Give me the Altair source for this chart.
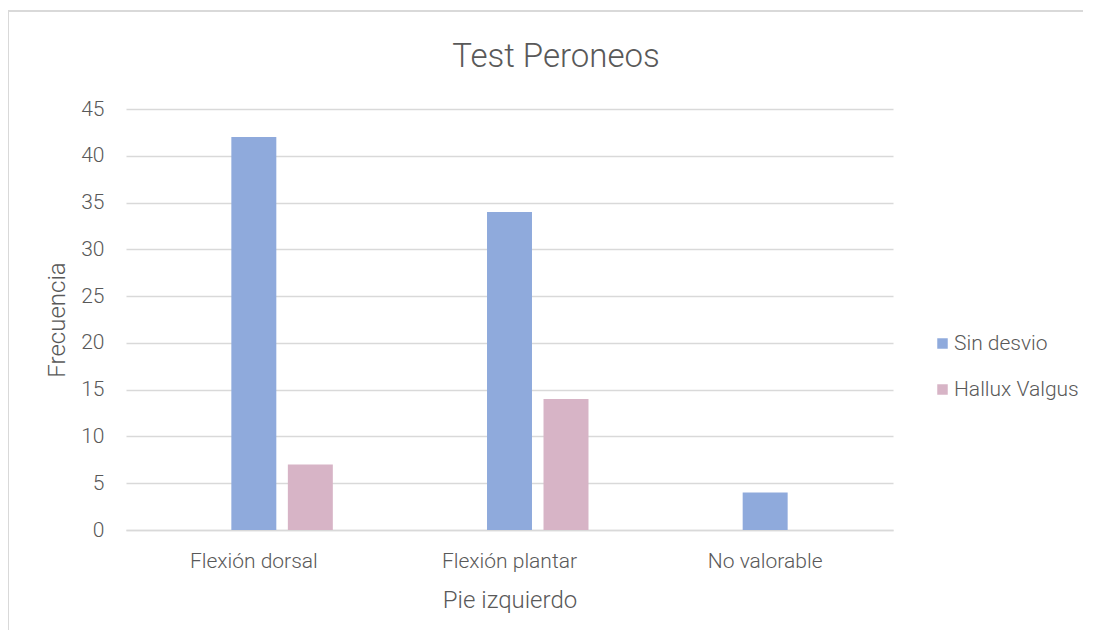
import altair as alt
import pandas as pd

chart_title = "Test Peroneos"
categories = ["Flexión dorsal", "Flexión plantar", "No valorable"]
series = ["Sin desvio", "Hallux Valgus"]
sin_desvio = [42, 34, 4]
hallux_valgus = [7, 14, 0]
y_ticks = [0, 5, 10, 15, 20, 25, 30, 35, 40, 45]
offset_slots = ["(vacío)", "Sin desvio", "Hallux Valgus"]
colors = ["#8FAADC", "#D7B4C6"]

rows = []
for i, c in enumerate(categories):
    rows.append({"Categoria": c, "Serie": series[0], "Frecuencia": sin_desvio[i]})
    rows.append({"Categoria": c, "Serie": series[1], "Frecuencia": hallux_valgus[i]})
df = pd.DataFrame(rows)

FONT = "Roboto"
TXT = "#595959"
GRID = "#D9D9D9"

bars = alt.Chart(df).mark_bar().encode(
    x=alt.X(
        "Categoria:N",
        sort=categories,
        scale=alt.Scale(paddingInner=0.337, paddingOuter=0.1685),
        axis=alt.Axis(
            title="Pie izquierdo",
            labelAngle=0,
            labelFont=FONT,
            labelFontSize=21,
            labelFontWeight=300,
            labelColor=TXT,
            labelPadding=20,
            ticks=False,
            domainColor=GRID,
            domainWidth=1.5,
            titleFont=FONT,
            titleFontSize=24,
            titleFontWeight=300,
            titleColor=TXT,
            titlePadding=17,
        ),
    ),
    xOffset=alt.XOffset(
        "Serie:N",
        scale=alt.Scale(domain=offset_slots, paddingInner=0.204, paddingOuter=0.102),
    ),
    y=alt.Y(
        "Frecuencia:Q",
        scale=alt.Scale(domain=[0, 45], nice=False),
        axis=alt.Axis(
            title="Frecuencia",
            values=y_ticks,
            labelFont=FONT,
            labelFontSize=21,
            labelFontWeight=300,
            labelColor=TXT,
            labelPadding=22,
            ticks=False,
            domain=False,
            gridColor=GRID,
            gridWidth=1.5,
            titleFont=FONT,
            titleFontSize=24,
            titleFontWeight=300,
            titleColor=TXT,
            titlePadding=11,
        ),
    ),
    color=alt.Color(
        "Serie:N",
        scale=alt.Scale(domain=series, range=colors),
        legend=alt.Legend(
            title=None,
            orient="none",
            legendX=806,
            legendY=224,
            symbolType="square",
            symbolSize=110,
            symbolStrokeWidth=0,
            labelFont=FONT,
            labelFontSize=21,
            labelFontWeight=300,
            labelColor=TXT,
            rowPadding=24,
            labelOffset=1,
        ),
    ),
)

one = pd.DataFrame({"k": [0]})

frame = alt.Chart(one).mark_rect(
    fill=None, stroke=GRID, strokeWidth=2
).encode(
    x=alt.value(-118),
    x2=alt.value(1200),
    y=alt.value(-98),
    y2=alt.value(700),
)

title_text = alt.Chart(one).mark_text(
    font=FONT, fontSize=33, fontWeight=300, color=TXT,
    align="center", baseline="middle",
).encode(
    x=alt.value(430),
    y=alt.value(-52),
    text=alt.value(chart_title),
)

chart = alt.layer(frame, bars, title_text).properties(
    width=767,
    height=421,
    autosize="none",
    padding={"left": 118, "top": 101, "right": 190, "bottom": 100},
).configure_view(stroke=None)

chart.save("out.html", embed_options={"renderer": "svg", "actions": False})
